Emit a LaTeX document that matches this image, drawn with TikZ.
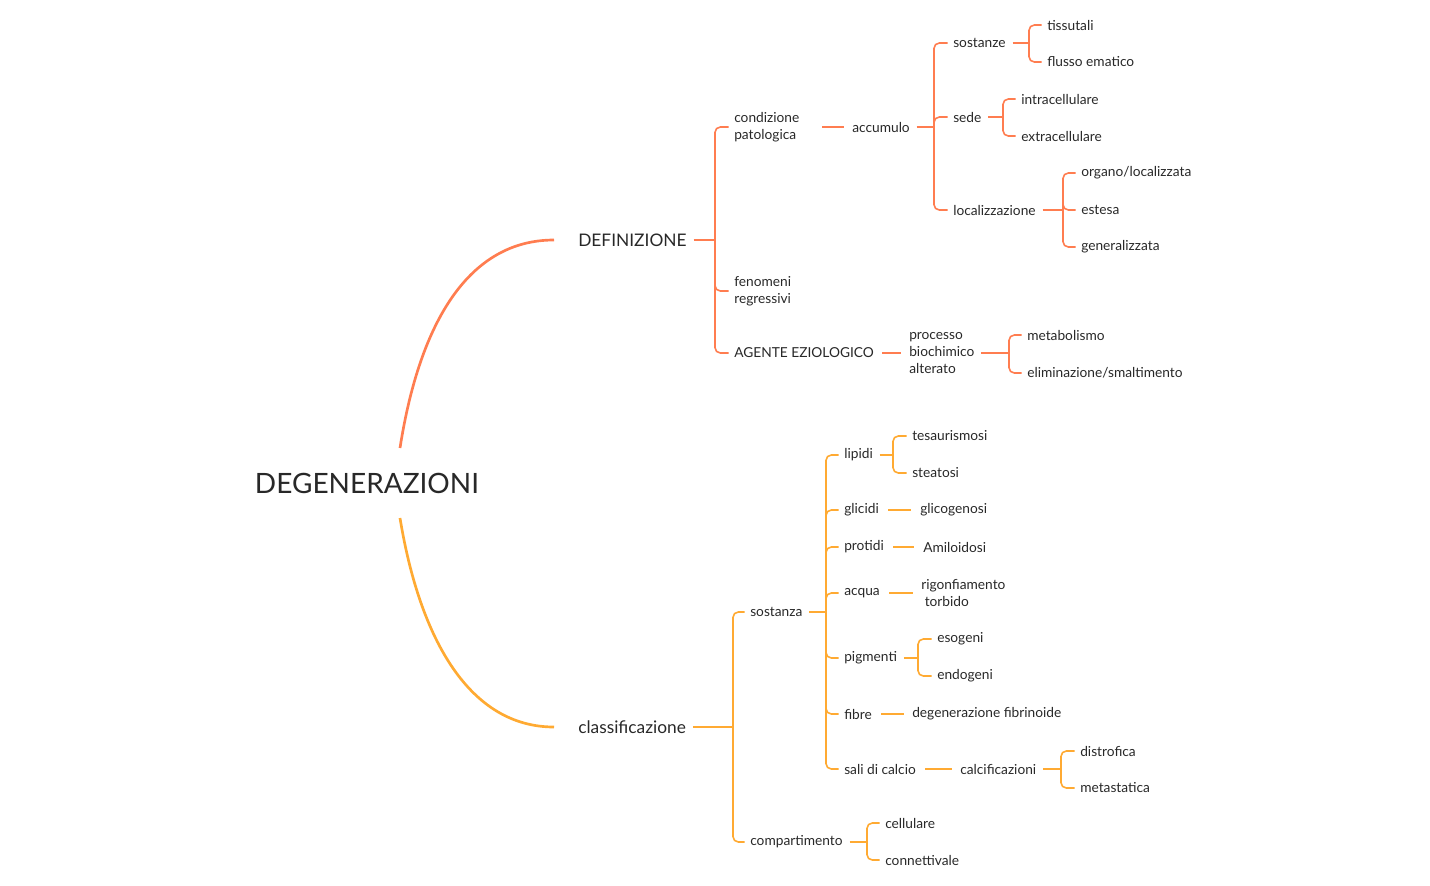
\documentclass[tikz,border=0pt]{standalone}
\usepackage{fontspec}
\setmainfont{Lato}
\definecolor{cR}{RGB}{255,125,80}
\definecolor{cY}{RGB}{255,170,50}
\definecolor{tx}{RGB}{40,40,40}
\newcommand\brk[4]{%
  \coordinate (tk) at (#2,0);
  \draw[#3] ([xshift=5]#1.east) -- (tk |- #1.east);
  \foreach \c in {#4} \draw[#3,rounded corners=4] (tk |- #1.east) |- ([xshift=-4]\c.west);
}
\begin{document}
\begin{tikzpicture}[x=0.75pt,y=-0.75pt,
  every node/.style={inner sep=0pt,text=tx},
  lf/.style={anchor=west,font=\fontsize{10.3}{12.8}\selectfont,align=left},
  l2/.style={anchor=west,font=\fontsize{13}{15}\selectfont},
  R/.style={draw=cR,line width=1.2pt},
  Y/.style={draw=cY,line width=1.2pt}]
\useasboundingbox (0,0) rectangle (1430,885);
\node (root) at (367,483) {\fontsize{21}{24}\selectfont DEGENERAZIONI};
\node[l2] (def) at (578,240) {DEFINIZIONE};
\node[l2] (cla) at (578,727) {classificazione};
\draw[cR,line width=2pt] (root.north -| 400,0) ++(0,-3) coordinate (r1);
\coordinate (ra) at (400,448); \coordinate (rb) at (400,518);
\draw[cR,line width=2pt] (ra) .. controls (420,320) and (470,240) .. ([xshift=-18]def.west);
\draw[cY,line width=2pt] (rb) .. controls (420,640) and (470,727) .. ([xshift=-18]cla.west);
% definizione
\node[lf] (cond) at (734,127) {condizione\\patologica};
\node[lf] (fen) at (734,291) {fenomeni\\regressivi};
\node[lf] (age) at (734,353) {AGENTE EZIOLOGICO};
\brk{def}{715}{R}{cond,fen,age}
\node[lf] (acc) at (852,127) {accumulo};
\draw[R] (822,127) coordinate (ca) -- ([xshift=-6]acc.west);
\node[lf] (sos) at (953,43) {sostanze};
\node[lf] (sede) at (953,117) {sede};
\node[lf] (loc) at (953,210) {localizzazione};
\brk{acc}{934}{R}{sos,sede,loc}
\node[lf] (tis) at (1047,25) {tissutali};
\node[lf] (flu) at (1047,62) {flusso ematico};
\brk{sos}{1029}{R}{tis,flu}
\node[lf] (intra) at (1021,99) {intracellulare};
\node[lf] (extra) at (1021,136) {extracellulare};
\brk{sede}{1003}{R}{intra,extra}
\node[lf] (org) at (1081,173) {organo/localizzata};
\node[lf] (est) at (1081,210) {estesa};
\node[lf] (gen) at (1081,247) {generalizzata};
\brk{loc}{1063}{R}{org,est,gen}
\node[lf] (pro) at (909,353) {processo\\biochimico\\alterato};
\draw[R] ([xshift=6]age.east) -- ([xshift=-6]pro.west);
\node[lf] (met) at (1027,335) {metabolismo};
\node[lf] (eli) at (1027,373) {eliminazione/smaltimento};
\brk{pro}{1009}{R}{met,eli}
% classificazione
\node[lf] (sza) at (750,612) {sostanza};
\node[lf] (com) at (750,842) {compartimento};
\brk{cla}{733}{Y}{sza,com}
\node[lf] (lip) at (844,455) {lipidi};
\node[lf] (gli) at (844,510) {glicidi};
\node[lf] (prt) at (844,547) {protidi};
\node[lf] (acq) at (844,593) {acqua};
\node[lf] (pig) at (844,658) {pigmenti};
\node[lf] (fib) at (844,714) {fibre};
\node[lf] (sal) at (844,769) {sali di calcio};
\brk{sza}{826}{Y}{lip,gli,prt,acq,pig,fib,sal}
\node[lf] (tes) at (912,436) {tesaurismosi};
\node[lf] (ste) at (912,473) {steatosi};
\brk{lip}{893}{Y}{tes,ste}
\node[lf] (glg) at (920,510) {glicogenosi};
\draw[Y] ([xshift=7]gli.east) -- ([xshift=-7]glg.west);
\node[lf] (ami) at (923,547) {Amiloidosi};
\draw[Y] ([xshift=7]prt.east) -- ([xshift=-7]ami.west);
\node[lf] (rig) at (921,593) {rigonfiamento\\\ torbido};
\draw[Y] ([xshift=7]acq.east) -- ([xshift=-6]rig.west);
\node[lf] (eso) at (937,639) {esogeni};
\node[lf] (endo) at (937,676) {endogeni};
\brk{pig}{918}{Y}{eso,endo}
\node[lf] (dfi) at (912,714) {degenerazione fibrinoide};
\draw[Y] ([xshift=7]fib.east) -- ([xshift=-6]dfi.west);
\node[lf] (cal) at (960,769) {calcificazioni};
\draw[Y] ([xshift=7]sal.east) -- ([xshift=-6]cal.west);
\node[lf] (dis) at (1080,751) {distrofica};
\node[lf] (mts) at (1080,788) {metastatica};
\brk{cal}{1061}{Y}{dis,mts}
\node[lf] (cel) at (885,823) {cellulare};
\node[lf] (con) at (885,860) {connettivale};
\brk{com}{867}{Y}{cel,con}
\end{tikzpicture}
\end{document}
